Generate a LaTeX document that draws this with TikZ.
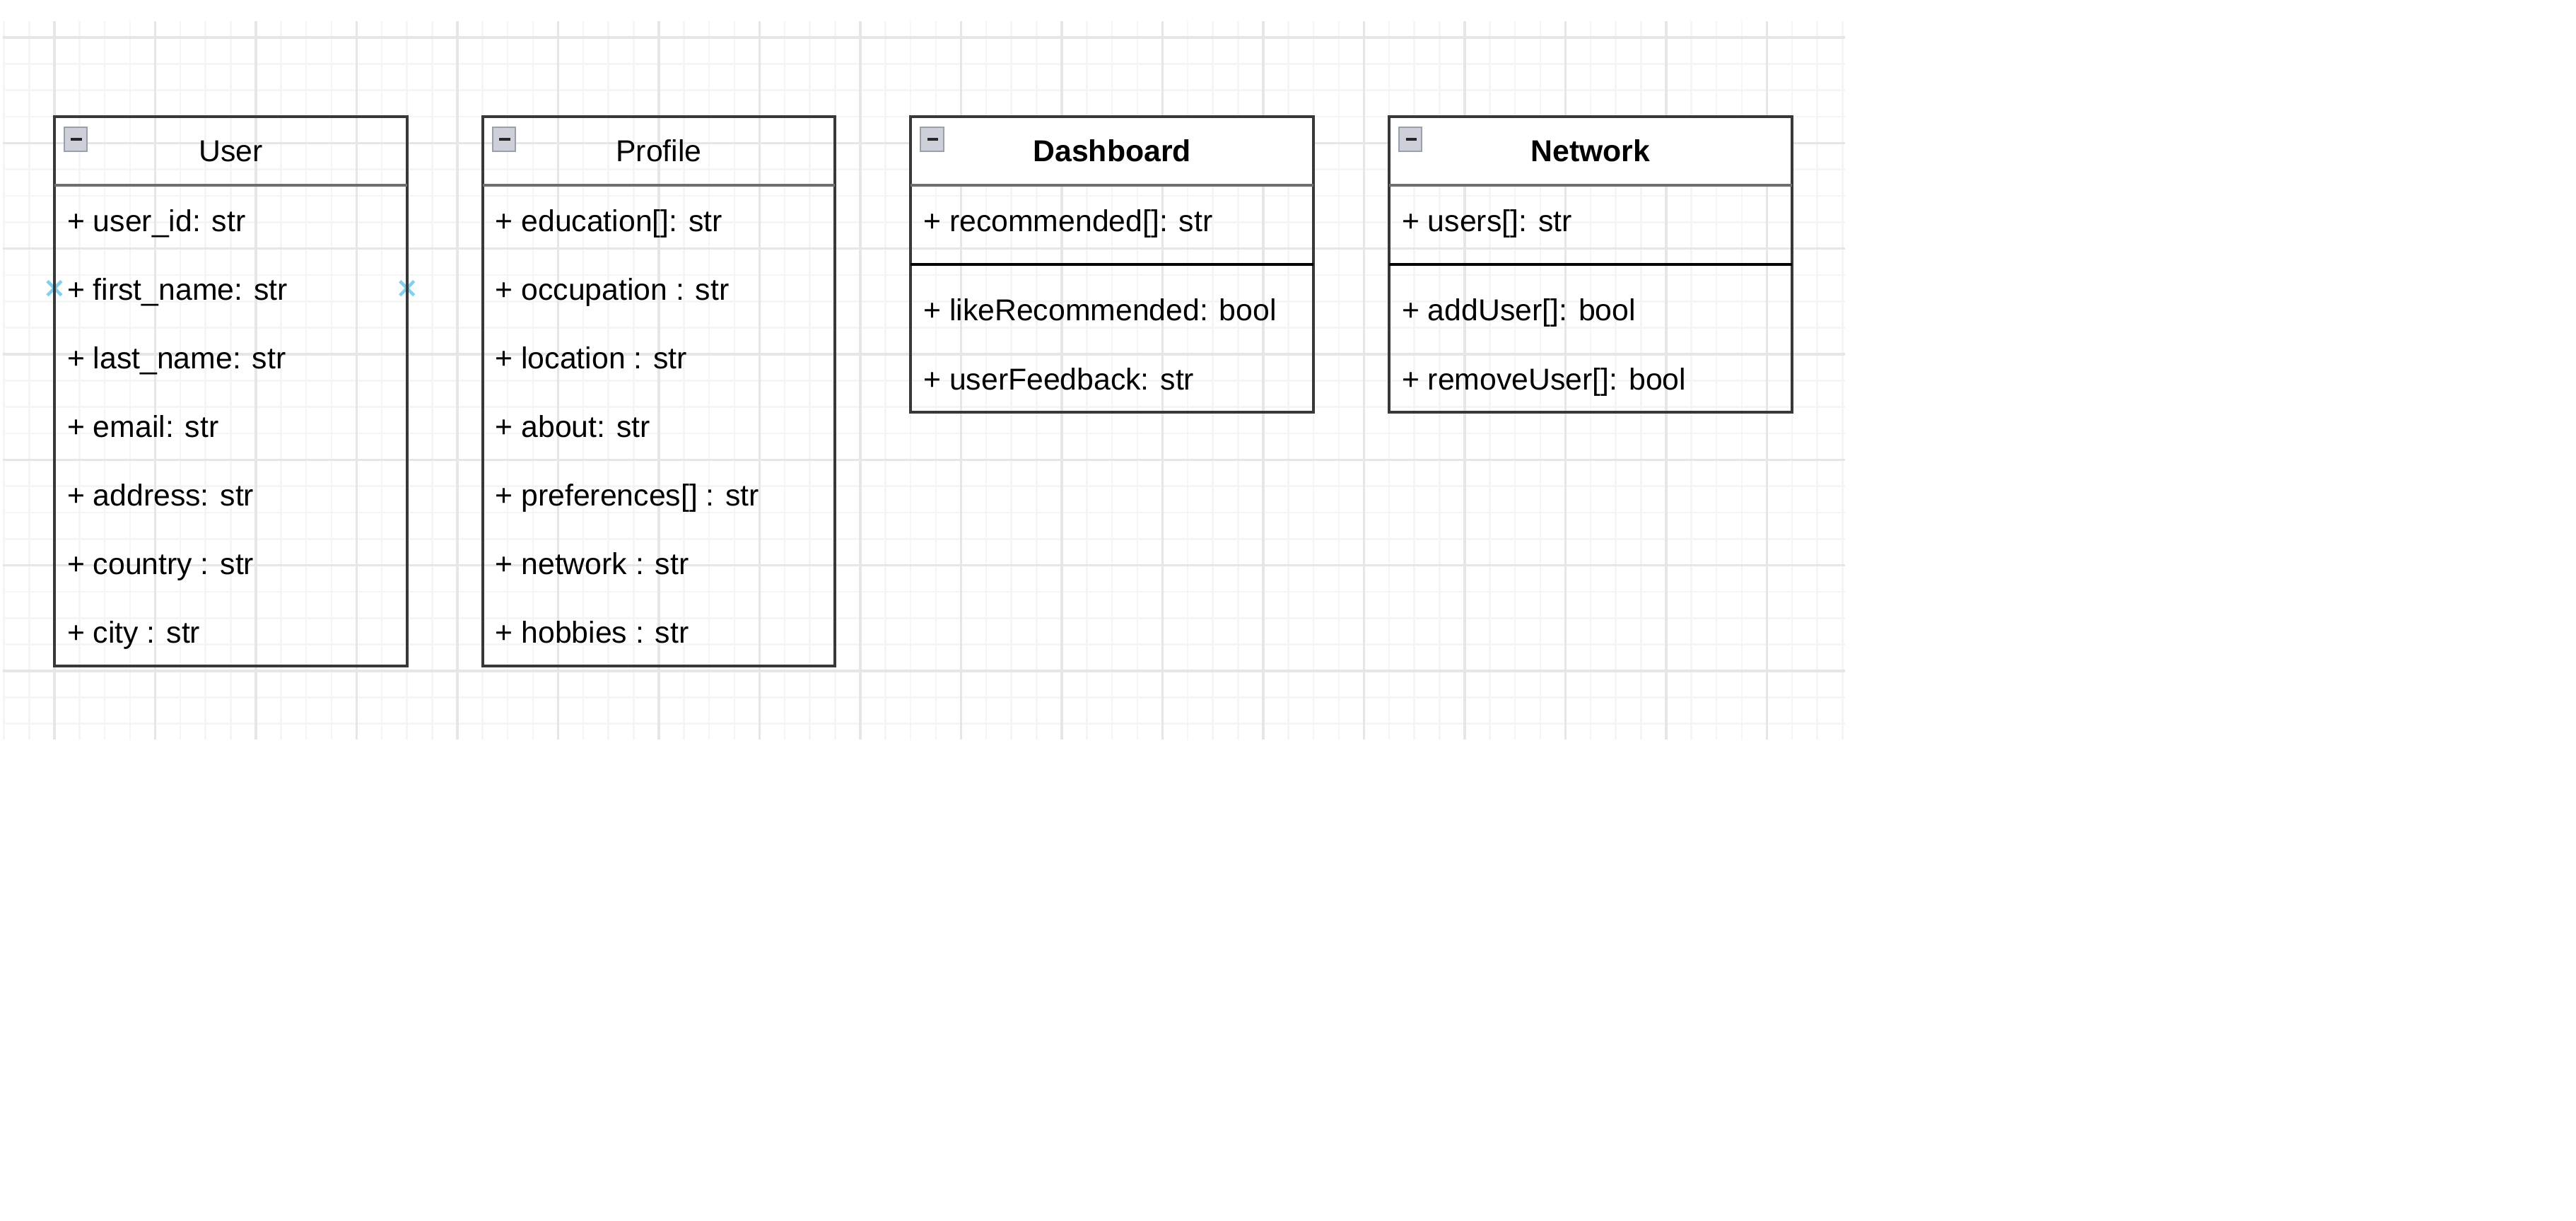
\documentclass[tikz,border=0pt]{standalone}
\usepackage{fontspec}
\setmainfont{Liberation Sans}
\definecolor{gridmajor}{HTML}{E6E6E6}
\definecolor{gridminor}{HTML}{F5F5F5}
\definecolor{boxline}{HTML}{383838}
\definecolor{headline}{HTML}{6E6E6E}
\definecolor{iconfill}{HTML}{CDD0D8}
\definecolor{iconline}{HTML}{98A0AC}
\definecolor{hoverblue}{HTML}{7FD0F2}
\begin{document}
\begin{tikzpicture}[x=0.7125pt,y=-0.74667pt,
  every node/.style={font=\fontsize{8.55}{10}\selectfont,inner sep=0pt},
  member/.style={anchor=base west},
  classbox/.style={draw=boxline,line width=0.8pt},
  headsep/.style={draw=headline,line width=0.8pt},
  opsep/.style={draw=black,line width=0.8pt},
  collapse/.style={draw=iconline,fill=iconfill,line width=0.4pt},
  hover/.style={draw=hoverblue,line width=0.9pt}]
  \useasboundingbox (-21.61,-14.2) rectangle (1001.3,448.2);
  % grid
  \foreach \x in {-20,-10,...,710} \draw[gridminor,line width=0.5pt] (\x,-6.16) -- (\x,266);
  \foreach \y in {0,10,...,260} \draw[gridminor,line width=0.5pt] (-20.5,\y) -- (711,\y);
  \foreach \x in {0,40,...,680} \draw[gridmajor,line width=0.65pt] (\x,-6.16) -- (\x,266);
  \foreach \y in {0,40,...,240} \draw[gridmajor,line width=0.65pt] (-20.5,\y) -- (711,\y);
  % User
  \path (0,30) rectangle (140,56) node[pos=.5] (user) {User};
  \draw[hover] (-2.8,92.3) -- (2.8,97.7) (-2.8,97.7) -- (2.8,92.3);
  \draw[hover] (137.2,92.3) -- (142.8,97.7) (137.2,97.7) -- (142.8,92.3);
  \draw[classbox] (0,30) rectangle (140,238);
  \draw[headsep] (0,56) -- (140,56);
  \draw[collapse] (4,34) rectangle (13,43);
  \draw[line width=0.9pt,black!85] (6.6,38.6) -- (11,38.6);
  \foreach \t [count=\i] in {{user\_id: str},{first\_name: str},{last\_name: str},{email: str},{address: str},{country : str},{city : str}}
    \node[member] (user-\i) at (4.8,56+26*\i-8.6) {+ \t};
  % Profile
  \path (170,30) rectangle (310,56) node[pos=.5] (profile) {Profile};
  \draw[classbox] (170,30) rectangle (310,238);
  \draw[headsep] (170,56) -- (310,56);
  \draw[collapse] (174,34) rectangle (183,43);
  \draw[line width=0.9pt,black!85] (176.6,38.6) -- (181,38.6);
  \foreach \t [count=\i] in {{education[]: str},{occupation : str},{location : str},{about: str},{preferences[] : str},{network : str},{hobbies : str}}
    \node[member] (profile-\i) at (174.8,56+26*\i-8.6) {+ \t};
  % Dashboard
  \fill[white] (340,30) rectangle (500,56) node[pos=.5,color=black] (dashboard) {\bfseries Dashboard};
  \draw[classbox] (340,30) rectangle (500,142);
  \draw[headsep] (340,56) -- (500,56);
  \draw[opsep] (340,86) -- (500,86);
  \draw[collapse] (344,34) rectangle (353,43);
  \draw[line width=0.9pt,black!85] (346.6,38.6) -- (351,38.6);
  \node[member] (dashboard-1) at (344.8,73.4) {+ recommended[]: str};
  \node[member] (dashboard-2) at (344.8,107.4) {+ likeRecommended: bool};
  \node[member] (dashboard-3) at (344.8,133.4) {+ userFeedback: str};
  % Network
  \fill[white] (530,30) rectangle (690,56) node[pos=.5,color=black] (network) {\bfseries Network};
  \draw[classbox] (530,30) rectangle (690,142);
  \draw[headsep] (530,56) -- (690,56);
  \draw[opsep] (530,86) -- (690,86);
  \draw[collapse] (534,34) rectangle (543,43);
  \draw[line width=0.9pt,black!85] (536.6,38.6) -- (541,38.6);
  \node[member] (network-1) at (534.8,73.4) {+ users[]: str};
  \node[member] (network-2) at (534.8,107.4) {+ addUser[]: bool};
  \node[member] (network-3) at (534.8,133.4) {+ removeUser[]: bool};
\end{tikzpicture}
\end{document}
